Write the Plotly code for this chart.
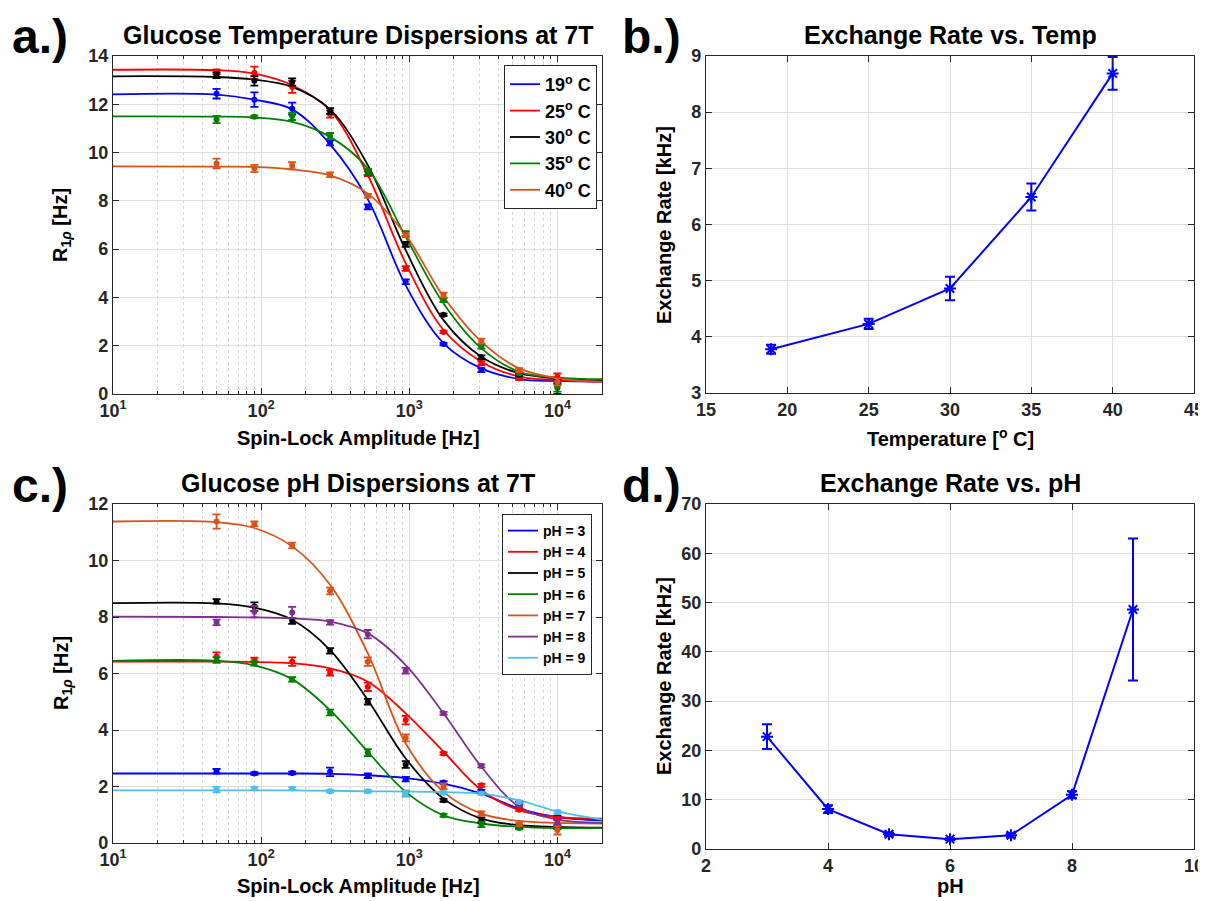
import plotly.graph_objects as go

# ---------------- data ----------------
amp = [50, 90, 162, 292, 525, 946, 1703, 3066, 5520, 10000]          # spin-lock amplitude [Hz]
amp_fit = [10, 50, 90, 162, 292, 525, 946, 1703, 3066, 5520, 10000, 20000]

# panel a: temperature dispersions (measured R1rho and read-off fitted curves)
temp_names = ["19<sup>o</sup> C", "25<sup>o</sup> C", "30<sup>o</sup> C", "35<sup>o</sup> C", "40<sup>o</sup> C"]
temp_colors = ["#0000FF", "#FF0000", "#000000", "#008000", "#D95319"]

r_19 = [12.44, 12.19, 11.82, 10.40, 7.75, 4.65, 2.07, 0.99, 0.65, 0.30]
e_19 = [0.20, 0.30, 0.25, 0.10, 0.10, 0.10, 0.05, 0.08, 0.05, 0.30]
f_19 = [12.41, 12.40, 12.19, 11.79, 10.34, 8.06, 4.50, 2.10, 1.06, 0.62, 0.54, 0.51]

r_25 = [13.35, 13.31, 12.72, 11.60, 9.13, 5.20, 2.57, 1.27, 0.65, 0.70]
e_25 = [0.10, 0.25, 0.25, 0.15, 0.10, 0.10, 0.05, 0.08, 0.05, 0.15]
f_25 = [13.43, 13.41, 13.27, 12.79, 11.75, 9.06, 5.41, 2.65, 1.34, 0.72, 0.58, 0.51]

r_30 = [13.20, 12.97, 12.92, 11.72, 9.20, 6.20, 3.28, 1.52, 0.80, 0.55]
e_30 = [0.12, 0.20, 0.15, 0.12, 0.12, 0.10, 0.05, 0.08, 0.05, 0.10]
f_30 = [13.16, 13.13, 13.02, 12.72, 11.79, 9.48, 5.96, 3.06, 1.54, 0.86, 0.65, 0.58]

r_35 = [11.37, 11.48, 11.50, 10.69, 9.20, 6.65, 3.89, 1.96, 0.86, 0.25]
e_35 = [0.15, 0.05, 0.15, 0.12, 0.12, 0.10, 0.08, 0.08, 0.05, 0.15]
f_35 = [11.50, 11.49, 11.45, 11.27, 10.65, 9.34, 6.51, 3.75, 1.89, 0.92, 0.68, 0.61]

r_40 = [9.55, 9.34, 9.45, 9.08, 8.21, 6.58, 4.10, 2.19, 0.99, 0.51]
e_40 = [0.20, 0.15, 0.15, 0.10, 0.08, 0.08, 0.10, 0.10, 0.08, 0.15]
f_40 = [9.43, 9.42, 9.41, 9.30, 9.06, 8.30, 6.58, 4.03, 2.17, 1.06, 0.65, 0.51]

# panel c: pH dispersions
ph_names = ["pH = 3", "pH = 4", "pH = 5", "pH = 6", "pH = 7", "pH = 8", "pH = 9"]
ph_colors = ["#0000FF", "#FF0000", "#000000", "#008000", "#D95319", "#7E2F8E", "#4DBEEE"]

r_ph3 = [2.54, 2.46, 2.48, 2.52, 2.38, 2.26, 2.14, 1.83, 1.42, 0.92]
e_ph3 = [0.08, 0.05, 0.05, 0.15, 0.08, 0.08, 0.05, 0.05, 0.05, 0.05]
f_ph3 = [2.46, 2.46, 2.46, 2.46, 2.45, 2.40, 2.30, 2.10, 1.75, 1.22, 0.92, 0.80]

r_ph4 = [6.60, 6.48, 6.42, 6.03, 5.53, 4.35, 3.17, 2.04, 1.18, 0.86]
e_ph4 = [0.15, 0.08, 0.15, 0.10, 0.15, 0.15, 0.05, 0.05, 0.05, 0.05]
f_ph4 = [6.42, 6.42, 6.41, 6.36, 6.18, 5.71, 4.59, 3.23, 1.87, 1.16, 0.92, 0.86]

r_ph5 = [8.55, 8.37, 7.86, 6.80, 5.00, 2.78, 1.51, 0.80, 0.57, 0.55]
e_ph5 = [0.08, 0.15, 0.10, 0.10, 0.10, 0.12, 0.05, 0.10, 0.05, 0.05]
f_ph5 = [8.49, 8.48, 8.33, 7.90, 6.83, 5.06, 2.99, 1.57, 0.86, 0.63, 0.57, 0.54]

r_ph6 = [6.48, 6.36, 5.79, 4.62, 3.20, 1.75, 0.98, 0.66, 0.53, 0.55]
e_ph6 = [0.10, 0.08, 0.08, 0.10, 0.12, 0.10, 0.05, 0.10, 0.05, 0.05]
f_ph6 = [6.45, 6.45, 6.29, 5.80, 4.70, 3.23, 1.81, 0.98, 0.69, 0.57, 0.53, 0.53]

r_ph7 = [11.38, 11.30, 10.53, 8.92, 6.42, 3.72, 2.01, 1.04, 0.66, 0.45]
e_ph7 = [0.25, 0.08, 0.10, 0.12, 0.15, 0.12, 0.10, 0.08, 0.05, 0.15]
f_ph7 = [11.38, 11.36, 11.15, 10.50, 9.14, 6.71, 3.52, 1.81, 1.04, 0.78, 0.71, 0.69]

r_ph8 = [7.81, 8.19, 8.16, 7.81, 7.39, 6.10, 4.59, 2.73, 1.36, 0.74]
e_ph8 = [0.10, 0.20, 0.20, 0.08, 0.15, 0.10, 0.05, 0.05, 0.05, 0.08]
f_ph8 = [8.01, 8.00, 7.99, 7.95, 7.84, 7.42, 6.30, 4.59, 2.70, 1.28, 0.83, 0.72]

r_ph9 = [1.89, 1.93, 1.93, 1.83, 1.83, 1.75, 1.78, 1.75, 1.45, 1.10]
e_ph9 = [0.10, 0.05, 0.05, 0.05, 0.05, 0.10, 0.05, 0.05, 0.05, 0.05]
f_ph9 = [1.86, 1.86, 1.86, 1.86, 1.85, 1.83, 1.82, 1.80, 1.75, 1.51, 1.12, 0.83]

# panel b: exchange rate vs temperature
temperature = [19, 25, 30, 35, 40]
kex_temp = [3.78, 4.23, 4.86, 6.49, 8.69]
kex_temp_err = [0.08, 0.09, 0.21, 0.24, 0.29]

# panel d: exchange rate vs pH
ph_values = [3, 4, 5, 6, 7, 8, 9]
kex_ph = [22.8, 8.1, 3.0, 2.0, 2.8, 11.0, 48.6]
kex_ph_err = [2.5, 0.8, 0.3, 0.2, 0.4, 0.7, 14.4]

log_ticks = [10, 100, 1000, 10000]
log_ticktext = ["10<sup>1</sup>", "10<sup>2</sup>", "10<sup>3</sup>", "10<sup>4</sup>"]
log_minor = [20, 30, 40, 50, 60, 70, 80, 90, 200, 300, 400, 500, 600, 700, 800, 900,
             2000, 3000, 4000, 5000, 6000, 7000, 8000, 9000]

# ---------------- figure ----------------
OFF = 8                      # page body margin of the html page
W, H = 1206 - OFF, 901 - OFF
FONT = "Liberation Sans"
AX = "#262626"
GRID = "#DEDEDE"
MINOR = "#D6D6D6"

fig = go.Figure()

temp_sets = [(r_19, e_19, f_19), (r_25, e_25, f_25), (r_30, e_30, f_30), (r_35, e_35, f_35), (r_40, e_40, f_40)]
for name, col, (r, e, f) in zip(temp_names, temp_colors, temp_sets):
    fig.add_trace(go.Scatter(x=amp_fit, y=f, mode="lines", line=dict(color=col, width=1.8, shape="spline", smoothing=1.0),
                             name=name, legend="legend", xaxis="x", yaxis="y"))
for name, col, (r, e, f) in zip(temp_names, temp_colors, temp_sets):
    fig.add_trace(go.Scatter(x=amp, y=r, mode="markers", marker=dict(color=col, size=6),
                             error_y=dict(type="data", array=e, color=col, thickness=1.8, width=4),
                             showlegend=False, xaxis="x", yaxis="y"))

ph_sets = [(r_ph3, e_ph3, f_ph3), (r_ph4, e_ph4, f_ph4), (r_ph5, e_ph5, f_ph5), (r_ph6, e_ph6, f_ph6),
           (r_ph7, e_ph7, f_ph7), (r_ph8, e_ph8, f_ph8), (r_ph9, e_ph9, f_ph9)]
for name, col, (r, e, f) in zip(ph_names, ph_colors, ph_sets):
    fig.add_trace(go.Scatter(x=amp_fit, y=f, mode="lines", line=dict(color=col, width=1.8, shape="spline", smoothing=1.0),
                             name=name, legend="legend2", xaxis="x3", yaxis="y3"))
for name, col, (r, e, f) in zip(ph_names, ph_colors, ph_sets):
    fig.add_trace(go.Scatter(x=amp, y=r, mode="markers", marker=dict(color=col, size=6),
                             error_y=dict(type="data", array=e, color=col, thickness=1.8, width=4),
                             showlegend=False, xaxis="x3", yaxis="y3"))

fig.add_trace(go.Scatter(x=temperature, y=kex_temp, mode="lines+markers",
                         line=dict(color="#0000FF", width=2),
                         marker=dict(symbol="asterisk-open", size=10, color="#0000FF", line=dict(color="#0000FF", width=2)),
                         error_y=dict(type="data", array=kex_temp_err, color="#0000FF", thickness=2, width=5),
                         showlegend=False, xaxis="x2", yaxis="y2"))
fig.add_trace(go.Scatter(x=ph_values, y=kex_ph, mode="lines+markers",
                         line=dict(color="#0000FF", width=2),
                         marker=dict(symbol="asterisk-open", size=10, color="#0000FF", line=dict(color="#0000FF", width=2)),
                         error_y=dict(type="data", array=kex_ph_err, color="#0000FF", thickness=2, width=5),
                         showlegend=False, xaxis="x4", yaxis="y4"))

tickfont = dict(family=FONT, size=18, color=AX, weight="bold")
common = dict(showline=True, linecolor=AX, linewidth=1.3, mirror="allticks", ticks="inside", ticklen=6,
              tickcolor=AX, tickwidth=1, showgrid=True, gridcolor=GRID, gridwidth=1, zeroline=False,
              tickfont=tickfont, automargin=False)

def px(v):
    return (v - OFF) / W

def py(v):
    return 1 - (v - OFF) / H

logax = dict(type="log", range=[1, 4.30103], tickvals=log_ticks, ticktext=log_ticktext,
             minor=dict(tickvals=log_minor, showgrid=True, griddash="dot", gridcolor=MINOR, gridwidth=1,
                        ticks="inside", ticklen=3, tickcolor=AX))

fig.update_layout(
    width=W, height=H, margin=dict(l=0, r=0, t=0, b=0, autoexpand=False),
    paper_bgcolor="white", plot_bgcolor="white",
    xaxis=dict(domain=[px(113), px(602)], anchor="y", **logax, **common),
    yaxis=dict(domain=[py(394), py(56)], anchor="x", range=[0, 14], dtick=2, **common),
    xaxis2=dict(domain=[px(706), px(1194)], anchor="y2", range=[15, 45], dtick=5, **common),
    yaxis2=dict(domain=[py(393), py(56)], anchor="x2", range=[3, 9], dtick=1, **common),
    xaxis3=dict(domain=[px(113), px(602)], anchor="y3", **logax, **common),
    yaxis3=dict(domain=[py(843), py(504)], anchor="x3", range=[0, 12], dtick=2, **common),
    xaxis4=dict(domain=[px(706), px(1194)], anchor="y4", range=[2, 10], dtick=2, **common),
    yaxis4=dict(domain=[py(849), py(504)], anchor="x4", range=[0, 70], dtick=10, **common),
    legend=dict(x=px(597), y=py(65), xanchor="right", yanchor="top", bgcolor="white",
                bordercolor="#262626", borderwidth=1, font=dict(family=FONT, size=18, color="black", weight="bold"),
                itemwidth=30, tracegroupgap=0),
    legend2=dict(x=px(592), y=py(514), xanchor="right", yanchor="top", bgcolor="white",
                 bordercolor="#262626", borderwidth=1, font=dict(family=FONT, size=14, color="black", weight="bold"),
                 itemwidth=30, tracegroupgap=0),
    showlegend=True,
)

def ann(text, x, y, size, angle=0, xanchor="center", yanchor="middle"):
    fig.add_annotation(text=text, x=px(x), y=py(y), xref="paper", yref="paper", showarrow=False,
                       xanchor=xanchor, yanchor=yanchor, textangle=angle,
                       font=dict(family=FONT, size=size, color="black", weight="bold"))

# panel letters
ann("a.)", 10, 36, 48, xanchor="left")
ann("b.)", 620, 36, 48, xanchor="left")
ann("c.)", 10, 485, 48, xanchor="left")
ann("d.)", 620, 485, 48, xanchor="left")
# titles
ann("Glucose Temperature Dispersions at 7T", 358, 35, 25)
ann("Exchange Rate vs. Temp", 950, 35, 25)
ann("Glucose pH Dispersions at 7T", 358, 483, 25)
ann("Exchange Rate vs. pH", 950, 483, 25)
# x titles
ann("Spin-Lock Amplitude [Hz]", 358, 438, 20)
ann("Temperature [<sup>o</sup> C]", 950, 438, 20)
ann("Spin-Lock Amplitude [Hz]", 358, 886, 20)
ann("pH", 950, 886, 20)
# y titles
ann("R<sub>1<i>ρ</i></sub> [Hz]", 62, 225, 20, angle=-90)
ann("R<sub>1<i>ρ</i></sub> [Hz]", 62, 673, 20, angle=-90)
ann("Exchange Rate [kHz]", 664, 225, 20, angle=-90)
ann("Exchange Rate [kHz]", 664, 676, 20, angle=-90)

fig.write_html("out.html")
